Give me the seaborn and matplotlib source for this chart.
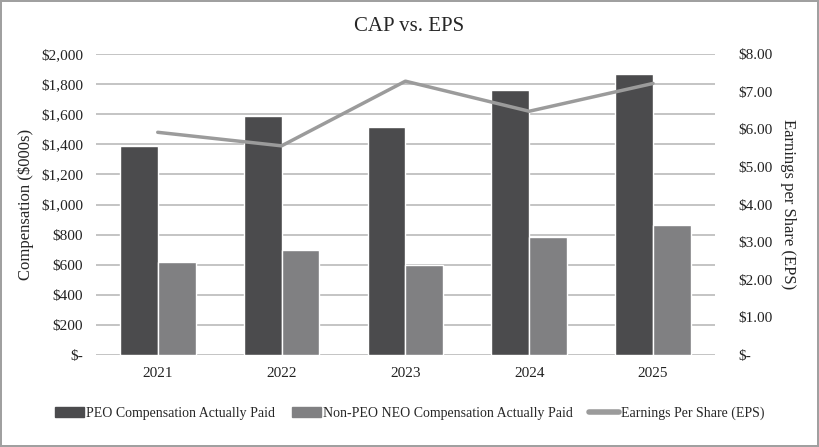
import numpy as np
import pandas as pd
import seaborn as sns
from matplotlib import pyplot as plt
from matplotlib.ticker import FuncFormatter
from matplotlib.patches import Patch
from matplotlib.lines import Line2D

years = ["2021", "2022", "2023", "2024", "2025"]
peo_cap = [1390, 1590, 1515, 1762, 1870]
neo_cap = [620, 700, 600, 785, 865]
eps = [5.92, 5.56, 7.28, 6.48, 7.22]
series_names = ["PEO Compensation Actually Paid", "Non-PEO NEO Compensation Actually Paid"]
eps_name = "Earnings Per Share (EPS)"

PEO_COLOR = "#4b4b4d"
NEO_COLOR = "#808082"
EPS_COLOR = "#9b9b9b"
GRID_COLOR = "#bfbfbf"

sns.set_style("white")
plt.rcParams["font.family"] = ["Liberation Serif", "DejaVu Serif"]

df = pd.DataFrame({
    "year": years * 2,
    "value": peo_cap + neo_cap,
    "series": [series_names[0]] * len(years) + [series_names[1]] * len(years),
})

fig = plt.figure(figsize=(8.19, 4.47), dpi=100)
fig.patch.set_edgecolor("#a0a0a0")
fig.patch.set_linewidth(1.5)
ax = fig.add_axes([0.117, 0.206, 0.756, 0.673])

sns.barplot(data=df, x="year", y="value", hue="series", ax=ax,
            palette=[PEO_COLOR, NEO_COLOR], width=0.61, saturation=1,
            legend=False)
ax.set_ylim(0, 2000)
ax.set_yticks(np.arange(0, 2001, 200))
ax.yaxis.set_major_formatter(FuncFormatter(lambda v, p: "$-" if v == 0 else f"${v:,.0f}"))
ax.yaxis.grid(True, color=GRID_COLOR, linewidth=1.3)
ax.set_axisbelow(True)
ax.tick_params(axis="both", length=0, labelsize=11, colors="#222222", pad=9)
ax.set_xlabel("")
ax.set_ylabel("Compensation ($000s)", fontsize=12, labelpad=5)
for s in ax.spines.values():
    s.set_visible(False)

ax2 = ax.twinx()
sns.pointplot(x=years, y=eps, ax=ax2, color=EPS_COLOR, markers="", linewidth=2.5)
ax2.set_ylim(0, 8)
ax2.set_yticks(np.arange(0, 8.01, 1))
ax2.yaxis.set_major_formatter(FuncFormatter(lambda v, p: "$-" if v == 0 else f"${v:.2f}"))
ax2.tick_params(axis="y", length=0, labelsize=11, colors="#222222", pad=17)
ax2.set_ylabel("Earnings per Share (EPS)", fontsize=12, rotation=270, labelpad=17)
for s in ax2.spines.values():
    s.set_visible(False)

fig.suptitle("CAP vs. EPS", y=0.962, fontsize=15)

handles = [Patch(color=PEO_COLOR), Patch(color=NEO_COLOR),
           Line2D([0], [0], color=EPS_COLOR, linewidth=4)]
fig.legend(handles, series_names + [eps_name], loc="center", bbox_to_anchor=(0.5, 0.075),
           ncol=3, frameon=False, fontsize=10, handlelength=2.1, handletextpad=0.15,
           columnspacing=1.2)

fig.savefig("out.png", dpi=100)
